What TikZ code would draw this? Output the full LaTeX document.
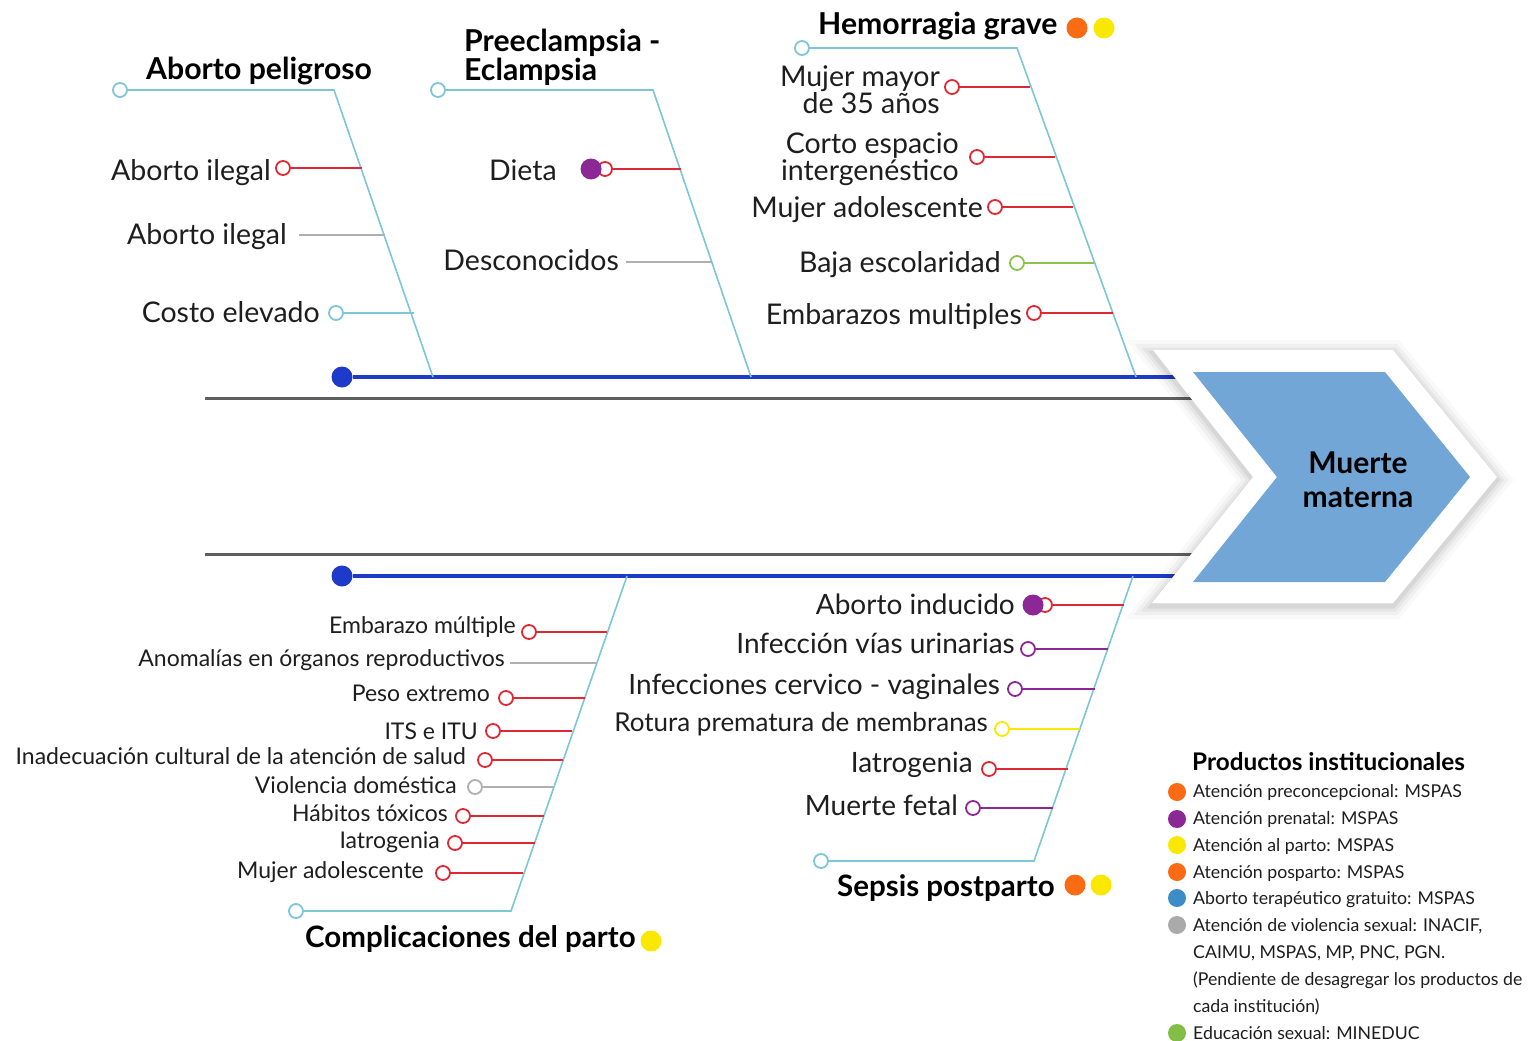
\documentclass[tikz,border=0pt]{standalone}
\usepackage{fontspec}
\setmainfont{Lato}
\definecolor{ink}{RGB}{30,30,30}
\definecolor{cyanb}{RGB}{125,198,214}
\definecolor{redb}{RGB}{222,40,52}
\definecolor{grayb}{RGB}{175,175,175}
\definecolor{greenb}{RGB}{140,195,75}
\definecolor{purpb}{RGB}{140,40,150}
\definecolor{yellb}{RGB}{250,232,0}
\definecolor{orab}{RGB}{250,108,20}
\definecolor{spblue}{RGB}{30,58,200}
\definecolor{spgray}{RGB}{95,95,95}
\definecolor{chev}{RGB}{114,166,214}
\definecolor{legblue}{RGB}{60,140,200}
\definecolor{leggray}{RGB}{170,170,170}
\definecolor{leggreen}{RGB}{130,190,70}
\begin{document}
\begin{tikzpicture}[x=1pt,y=-1pt,
  lbl/.style={font=\fontsize{28.5}{27}\selectfont, text=ink, inner sep=0pt},
  lbls/.style={font=\fontsize{23}{24}\selectfont, text=ink, inner sep=0pt},
  lblm/.style={font=\fontsize{28}{28}\selectfont, text=ink, inner sep=0pt},
  ttl/.style={font=\fontsize{30.2}{29}\selectfont\bfseries, text=black, inner sep=0pt},
  ttlb/.style={font=\fontsize{29.5}{29}\selectfont\bfseries, text=black, inner sep=0pt},
  leg/.style={font=\fontsize{17.7}{20}\selectfont, text=ink, inner sep=0pt, anchor=base west},
  oc/.style={circle, draw=#1, fill=white, line width=1.8pt, minimum size=14pt, inner sep=0pt},
  fd/.style={circle, fill=#1, minimum size=21pt, inner sep=0pt},
  fdl/.style={circle, fill=#1, minimum size=18pt, inner sep=0pt},
  bone/.style={draw=cyanb, line width=1.6pt},
  sub/.style={draw=#1, line width=1.6pt},
  spine/.style={draw=spblue, line width=3.6pt},
  gspine/.style={draw=spgray, line width=3pt},
]
\fill[white] (0,0) rectangle (1531,1041);
\path[use as bounding box] (0,0) rectangle (1531,1041);

% ---------- spines ----------
\coordinate (G1a) at (205,398); \coordinate (G1b) at (1200,398);
\coordinate (G2a) at (205,554); \coordinate (G2b) at (1200,554);
\draw[gspine] (G1a) -- (G1b);
\draw[gspine] (G2a) -- (G2b);
\node[fd=spblue] (S1) at (342,377) {};
\node[fd=spblue] (S2) at (342,576) {};
\coordinate (S1e) at (1185,377); \coordinate (S2e) at (1185,576);
\draw[spine] (S1) -- (S1e);
\draw[spine] (S2) -- (S2e);

% ---------- chevron ----------
\foreach \w/\o in {26/0.025,18/0.035,11/0.045,5/0.06}
  \draw[line width=\w pt, draw=black, opacity=\o, line join=miter, yshift=-3pt]
    (1153,350) -- (1393,350) -- (1497,477) -- (1393,603) -- (1152,603) -- (1253,477) -- cycle;
\fill[white] (1153,350) -- (1393,350) -- (1497,477) -- (1393,603) -- (1152,603) -- (1253,477) -- cycle;
\fill[chev] (1193,372) -- (1385,372) -- (1470,477) -- (1385,582) -- (1193,582) -- (1277,477) -- cycle;
\node[font=\fontsize{30}{34}\selectfont\bfseries, text=black, align=center, inner sep=0pt] (MM) at (1358,480) {Muerte\\materna};

% ---------- branch 1: Aborto peligroso ----------
\node[oc=cyanb] (A0) at (120,90) {};
\coordinate (A1) at (334,90); \coordinate (A2) at (433,377);
\draw[bone] (A0) -- (A1) -- (A2);
\node[ttl, anchor=base west] (At) at (146,79) {Aborto peligroso};
\node[oc=redb] (Ac1) at (283,168) {}; \coordinate (Ae1) at (362,168);
\draw[sub=redb] (Ac1) -- (Ae1);
\node[lbl, anchor=base east] (Al1) at (271,180) {Aborto ilegal};
\coordinate (Ag2) at (299,235); \coordinate (Ae2) at (385,235);
\draw[sub=grayb] (Ag2) -- (Ae2);
\node[lbl, anchor=base east] (Al2) at (287,244) {Aborto ilegal};
\node[oc=cyanb] (Ac3) at (336,313) {}; \coordinate (Ae3) at (414,313);
\draw[sub=cyanb] (Ac3) -- (Ae3);
\node[lbl, anchor=base east] (Al3) at (320,322) {Costo elevado};

% ---------- branch 2: Preeclampsia ----------
\node[oc=cyanb] (P0) at (438,90) {};
\coordinate (P1) at (653,90); \coordinate (P2) at (751,377);
\draw[bone] (P0) -- (P1) -- (P2);
\node[ttl, anchor=base west] (Pt1) at (464,52) {Preeclampsia -};
\node[ttl, anchor=base west] (Pt2) at (464,81) {Eclampsia};
\node[oc=redb] (Pc1) at (605,169) {}; \coordinate (Pe1) at (681,169);
\draw[sub=redb] (Pc1) -- (Pe1);
\node[fd=purpb] (Pd1) at (591,169) {};
\node[lbl, anchor=base east] (Pl1) at (557,180) {Dieta};
\coordinate (Pg2) at (626,262); \coordinate (Pe2) at (712,262);
\draw[sub=grayb] (Pg2) -- (Pe2);
\node[lbl, anchor=base east] (Pl2) at (619,270) {Desconocidos};

% ---------- branch 3: Hemorragia grave ----------
\node[oc=cyanb] (H0) at (802,48) {};
\coordinate (H1) at (1017,48); \coordinate (H2) at (1136,377);
\draw[bone] (H0) -- (H1) -- (H2);
\node[ttl, anchor=base west] (Ht) at (818,35) {Hemorragia grave};
\node[fd=orab] (Hd1) at (1077,28) {};
\node[fd=yellb] (Hd2) at (1104,28) {};
\node[oc=redb] (Hc1) at (952,87) {}; \coordinate (He1) at (1030,87);
\draw[sub=redb] (Hc1) -- (He1);
\node[lbl, anchor=east, align=right] (Hl1) at (940,90) {Mujer mayor\\de 35 años};
\node[oc=redb] (Hc2) at (977,157) {}; \coordinate (He2) at (1055,157);
\draw[sub=redb] (Hc2) -- (He2);
\node[lbl, anchor=east, align=right] (Hl2) at (959,159) {Corto espacio\\intergenéstico};
\node[oc=redb] (Hc3) at (995,207) {}; \coordinate (He3) at (1073,207);
\draw[sub=redb] (Hc3) -- (He3);
\node[lbl, anchor=base east] (Hl3) at (983,217) {Mujer adolescente};
\node[oc=greenb] (Hc4) at (1017,263) {}; \coordinate (He4) at (1094,263);
\draw[sub=greenb] (Hc4) -- (He4);
\node[lbl, anchor=base east] (Hl4) at (1001,272) {Baja escolaridad};
\node[oc=redb] (Hc5) at (1034,313) {}; \coordinate (He5) at (1113,313);
\draw[sub=redb] (Hc5) -- (He5);
\node[lbl, anchor=base east] (Hl5) at (1022,324) {Embarazos multiples};

% ---------- branch 4: Complicaciones del parto ----------
\node[oc=cyanb] (C0) at (296,911) {};
\coordinate (C1) at (511,911); \coordinate (C2) at (627,576);
\draw[bone] (C0) -- (C1) -- (C2);
\node[ttlb, anchor=base west] (Ct) at (305,947) {Complicaciones del parto};
\node[fd=yellb] (Cd1) at (651,941) {};
\node[oc=redb] (Cc1) at (529,632) {}; \coordinate (Ce1) at (607,632);
\draw[sub=redb] (Cc1) -- (Ce1);
\node[lbls, anchor=base east] (Cl1) at (516,633) {Embarazo múltiple};
\coordinate (Cg2) at (510,663); \coordinate (Ce2) at (597,663);
\draw[sub=grayb] (Cg2) -- (Ce2);
\node[lbls, anchor=base east] (Cl2) at (505,666) {Anomalías en órganos reproductivos};
\node[oc=redb] (Cc3) at (506,698) {}; \coordinate (Ce3) at (585,698);
\draw[sub=redb] (Cc3) -- (Ce3);
\node[lbls, anchor=base east] (Cl3) at (490,701) {Peso extremo};
\node[oc=redb] (Cc4) at (493,731) {}; \coordinate (Ce4) at (572,731);
\draw[sub=redb] (Cc4) -- (Ce4);
\node[lbls, anchor=base east] (Cl4) at (478,739) {ITS e ITU};
\node[oc=redb] (Cc5) at (485,760) {}; \coordinate (Ce5) at (563,760);
\draw[sub=redb] (Cc5) -- (Ce5);
\node[lbls, anchor=base east] (Cl5) at (466,764) {Inadecuación cultural de la atención de salud};
\node[oc=grayb] (Cc6) at (475,787) {}; \coordinate (Ce6) at (553,787);
\draw[sub=grayb] (Cc6) -- (Ce6);
\node[lbls, anchor=base east] (Cl6) at (457,793) {Violencia doméstica};
\node[oc=redb] (Cc7) at (463,816) {}; \coordinate (Ce7) at (544,816);
\draw[sub=redb] (Cc7) -- (Ce7);
\node[lbls, anchor=base east] (Cl7) at (448,821) {Hábitos tóxicos};
\node[oc=redb] (Cc8) at (455,843) {}; \coordinate (Ce8) at (535,843);
\draw[sub=redb] (Cc8) -- (Ce8);
\node[lbls, anchor=base east] (Cl8) at (440,848) {Iatrogenia};
\node[oc=redb] (Cc9) at (443,873) {}; \coordinate (Ce9) at (523,873);
\draw[sub=redb] (Cc9) -- (Ce9);
\node[lbls, anchor=base east] (Cl9) at (424,878) {Mujer adolescente};

% ---------- branch 5: Sepsis postparto ----------
\node[oc=cyanb] (E0) at (821,861) {};
\coordinate (E1) at (1034,861); \coordinate (E2) at (1133,576);
\draw[bone] (E0) -- (E1) -- (E2);
\node[ttlb, anchor=base west] (Et) at (837,896) {Sepsis postparto};
\node[fd=orab] (Ed1) at (1075,885) {};
\node[fd=yellb] (Ed2) at (1101,885) {};
\node[oc=redb] (Ec1) at (1045,605) {}; \coordinate (Ee1) at (1124,605);
\draw[sub=redb] (Ec1) -- (Ee1);
\node[fd=purpb] (Edp) at (1033,605) {};
\node[lblm, anchor=base east] (El1) at (1015,614) {Aborto inducido};
\node[oc=purpb] (Ec2) at (1028,649) {}; \coordinate (Ee2) at (1108,649);
\draw[sub=purpb] (Ec2) -- (Ee2);
\node[lblm, anchor=base east] (El2) at (1015,653) {Infección vías urinarias};
\node[oc=purpb] (Ec3) at (1015,689) {}; \coordinate (Ee3) at (1095,689);
\draw[sub=purpb] (Ec3) -- (Ee3);
\node[lblm, anchor=base east] (El3) at (1000,694) {Infecciones cervico - vaginales};
\node[oc=yellb] (Ec4) at (1002,729) {}; \coordinate (Ee4) at (1080,729);
\draw[sub=yellb] (Ec4) -- (Ee4);
\node[lbls, font=\fontsize{26}{26}\selectfont, anchor=base east] (El4) at (988,731) {Rotura prematura de membranas};
\node[oc=redb] (Ec5) at (989,769) {}; \coordinate (Ee5) at (1068,769);
\draw[sub=redb] (Ec5) -- (Ee5);
\node[lblm, anchor=base east] (El5) at (973,772) {Iatrogenia};
\node[oc=purpb] (Ec6) at (973,808) {}; \coordinate (Ee6) at (1053,808);
\draw[sub=purpb] (Ec6) -- (Ee6);
\node[lblm, anchor=base east] (El6) at (958,815) {Muerte fetal};

% ---------- legend ----------
\node[font=\fontsize{24.3}{26}\selectfont\bfseries, text=black, inner sep=0pt, anchor=base west] (Lt) at (1192,770) {Productos institucionales};
\node[fdl=orab] (Ld1) at (1177,792) {};
\node[leg] (Lx1) at (1193,797) {Atención preconcepcional: MSPAS};
\node[fdl=purpb] (Ld2) at (1177,819) {};
\node[leg] (Lx2) at (1193,824) {Atención prenatal: MSPAS};
\node[fdl=yellb] (Ld3) at (1177,845) {};
\node[leg] (Lx3) at (1193,851) {Atención al parto: MSPAS};
\node[fdl=orab] (Ld4) at (1177,872) {};
\node[leg] (Lx4) at (1193,878) {Atención posparto: MSPAS};
\node[fdl=legblue] (Ld5) at (1177,898) {};
\node[leg] (Lx5) at (1193,904) {Aborto terapéutico gratuito: MSPAS};
\node[fdl=leggray] (Ld6) at (1177,925) {};
\node[leg] (Lx6) at (1193,931) {Atención de violencia sexual: INACIF,};
\node[leg] (Lx7) at (1193,958) {CAIMU, MSPAS, MP, PNC, PGN.};
\node[leg] (Lx8) at (1193,985) {(Pendiente de desagregar los productos de};
\node[leg] (Lx9) at (1193,1012) {cada institución)};
\node[fdl=leggreen] (Ld7) at (1177,1033) {};
\node[leg] (Lx10) at (1193,1039) {Educación sexual: MINEDUC};
\end{tikzpicture}
\end{document}
